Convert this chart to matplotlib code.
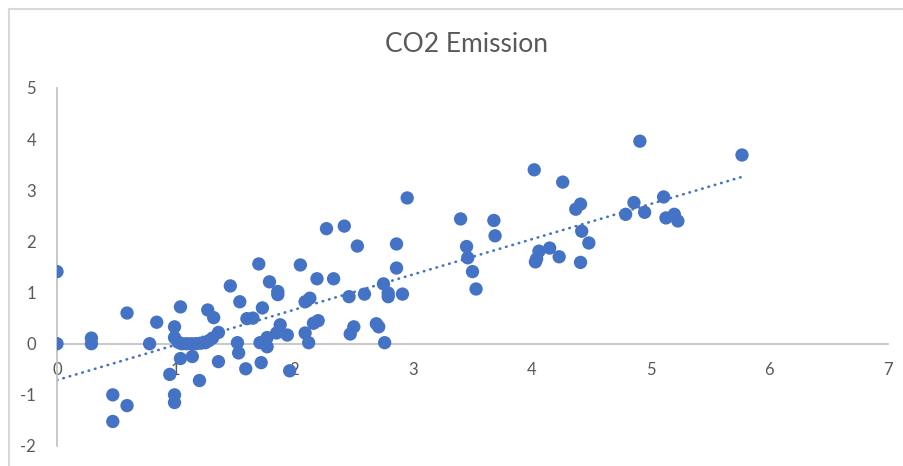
import matplotlib
matplotlib.use("Agg")
import matplotlib.pyplot as plt
from matplotlib.lines import Line2D
import numpy as np

title = "CO2 Emission"
x_ticks = [0, 1, 2, 3, 4, 5, 6, 7]
y_ticks = [-2, -1, 0, 1, 2, 3, 4, 5]

x_vals = [0, 0, 0.29, 0.29, 0.47, 0.47, 0.59, 0.59, 0.78, 0.84,
          0.95, 0.99, 0.99, 0.99, 0.99, 1.04, 1.04, 1.14, 1.2, 1.36,
          1.02, 1.05, 1.09, 1.13, 1.17, 1.21, 1.25, 1.28, 1.31, 1.36,
          1.27, 1.32, 1.46, 1.54, 1.52, 1.53, 1.59, 1.6, 1.65, 1.7,
          1.73, 1.72, 1.71, 1.77, 1.77, 1.79, 1.86, 1.86, 1.88, 1.85,
          1.94, 1.96, 2.05, 2.09, 2.13, 2.09, 2.12, 2.16, 2.2, 2.19,
          2.27, 2.33, 2.42, 2.46, 2.47, 2.5, 2.53, 2.59, 2.69, 2.71,
          2.75, 2.79, 2.79, 2.76, 2.86, 2.86, 2.91, 2.95, 3.4, 3.45,
          3.46, 3.5, 3.53, 3.68, 3.69, 4.02, 4.03, 4.04, 4.06, 4.15,
          4.23, 4.26, 4.37, 4.41, 4.42, 4.41, 4.48, 4.79, 4.86, 4.95,
          4.91, 5.11, 5.13, 5.2, 5.23, 5.77]
y_vals = [1.41, 0, 0.11, 0, -1.0, -1.52, -1.21, 0.6, 0, 0.42,
          -0.6, 0.33, 0.12, -1.0, -1.15, 0.72, -0.29, -0.25, -0.72, -0.35,
          0.03, 0.0, 0.0, 0.0, 0.0, 0.01, 0.02, 0.06, 0.11, 0.22,
          0.66, 0.51, 1.13, 0.82, 0.02, -0.18, -0.49, 0.49, 0.5, 1.56,
          0.7, -0.37, 0.02, 0.12, -0.06, 1.21, 1.02, 0.96, 0.37, 0.21,
          0.17, -0.53, 1.54, 0.82, 0.89, 0.21, 0.02, 0.4, 0.45, 1.27,
          2.25, 1.27, 2.3, 0.92, 0.19, 0.33, 1.91, 0.97, 0.39, 0.33,
          1.17, 0.99, 0.92, 0.02, 1.95, 1.48, 0.97, 2.85, 2.44, 1.9,
          1.68, 1.41, 1.07, 2.41, 2.11, 3.4, 1.6, 1.66, 1.81, 1.87,
          1.7, 3.16, 2.63, 2.73, 2.2, 1.59, 1.97, 2.53, 2.76, 2.57,
          3.96, 2.87, 2.46, 2.53, 2.4, 3.69]

blue = "#4472C4"
txt = "#595959"
axis_col = "#BFBFBF"

plt.rcParams['font.family'] = ['Lato', 'DejaVu Sans']
plt.rcParams['axes.unicode_minus'] = False

fig = plt.figure(figsize=(9.04, 4.66), dpi=100)
ax = fig.add_axes([57/904, 20/466, 831/904, 358/466])

x = np.array(x_vals)
y = np.array(y_vals)
ax.scatter(x, y, s=92, color=blue, edgecolors='none', zorder=3)

slope, intercept = np.polyfit(x, y, 1)
xt = np.array([0, x.max()])
ax.plot(xt, slope * xt + intercept, color=blue, lw=1.9,
        linestyle=(0, (0.2, 2.3)), dash_capstyle='round', zorder=2)

ax.set_xlim(0, 7)
ax.set_ylim(-2, 5)
ax.set_xticks(x_ticks)
ax.set_yticks(y_ticks)
ax.spines['bottom'].set_position(('data', 0))
ax.spines['left'].set_position(('data', 0))
for s in ['top', 'right']:
    ax.spines[s].set_visible(False)
for s in ['bottom', 'left']:
    ax.spines[s].set_color(axis_col)
    ax.spines[s].set_linewidth(1.2)
ax.tick_params(axis='both', length=0, labelsize=12, labelcolor=txt)
ax.tick_params(axis='x', pad=13)
ax.tick_params(axis='y', pad=15)
ax.patch.set_alpha(0)

fig.text(467/904, 1 - 44/466, title, ha='center', va='center',
         fontsize=19, color=txt)

# chart-area border (top and left visible)
fig.add_artist(Line2D([9/904, 1], [1 - 9/466, 1 - 9/466],
                      transform=fig.transFigure, color="#D9D9D9", lw=1.5))
fig.add_artist(Line2D([9/904, 9/904], [0, 1 - 9/466],
                      transform=fig.transFigure, color="#D9D9D9", lw=1.5))

fig.savefig("out.png", dpi=100)
